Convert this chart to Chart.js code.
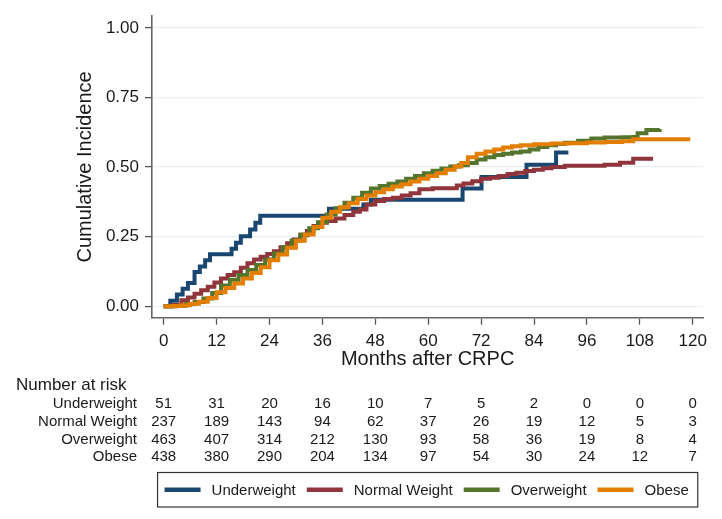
<!DOCTYPE html>
<html>
<head>
<meta charset="utf-8">
<script src="https://cdn.jsdelivr.net/npm/chart.js@4.4.1/dist/chart.umd.min.js"></script>
<style>
  html, body { margin: 0; padding: 0; background: #fff; }
  #wrap { position: relative; width: 722px; height: 519px; }
</style>
</head>
<body>
<div id="wrap"><canvas id="cifChart"></canvas></div>
<script>
// axis ticks
const xTicks = [0, 12, 24, 36, 48, 60, 72, 84, 96, 108, 120];
const yTicks = [0, 0.25, 0.5, 0.75, 1];

const groups = ['Underweight', 'Normal Weight', 'Overweight', 'Obese'];
const groupColors = ['#1a476f', '#90353b', '#55752f', '#e37e00'];

// cumulative incidence (month, value)
const underMonths = [0, 1.5, 3.0, 4.3, 5.5, 7.0, 8.2, 9.4, 10.5, 15.4, 16.4, 17.5, 19.6, 20.8, 21.9, 37.5, 45.3, 47.0, 67.8, 72.1, 82.3, 89.0, 91.8];
const underCI = [0, 0.02, 0.042, 0.063, 0.084, 0.123, 0.143, 0.165, 0.187, 0.207, 0.228, 0.252, 0.276, 0.300, 0.325, 0.35, 0.366, 0.383, 0.423, 0.464, 0.508, 0.552, 0.552];

const normalMonths = [0, 2, 4, 5.5, 7, 8.5, 10, 11.5, 13, 14.5, 16, 17.5, 19, 20.5, 22, 23.5, 25, 26.5, 28, 29.5, 31, 32.5, 34, 35.5, 37, 39, 41, 43, 44.5, 46, 48, 50, 52, 54, 56, 58, 61, 64, 66.5, 68, 70, 72, 74, 76, 78, 80, 82, 84, 86, 88, 91, 95, 100, 103.5, 106.5, 111];
const normalCI = [0, 0.005, 0.022, 0.032, 0.045, 0.058, 0.07, 0.085, 0.1, 0.112, 0.122, 0.138, 0.155, 0.168, 0.178, 0.188, 0.198, 0.212, 0.226, 0.24, 0.255, 0.27, 0.288, 0.3, 0.306, 0.315, 0.328, 0.34, 0.348, 0.366, 0.378, 0.385, 0.39, 0.398, 0.406, 0.42, 0.424, 0.424, 0.434, 0.441, 0.449, 0.458, 0.462, 0.468, 0.475, 0.48, 0.486, 0.49, 0.496, 0.5, 0.505, 0.505, 0.508, 0.516, 0.53, 0.53];

const overMonths = [0, 3, 5, 7, 9, 11, 13, 15, 17, 19, 21, 23, 25, 27, 29, 31, 33, 35, 37, 39, 41, 43, 45, 47, 49, 51, 53, 55, 57, 59, 61, 63, 65, 67, 69, 71, 73, 75, 77, 79, 81, 83, 85, 87, 89, 91, 94, 97, 100, 104, 106.5, 107.5, 109.5, 112.5];
const overCI = [0, 0.002, 0.008, 0.015, 0.028, 0.048, 0.075, 0.095, 0.112, 0.13, 0.148, 0.168, 0.19, 0.212, 0.236, 0.258, 0.28, 0.302, 0.33, 0.352, 0.372, 0.39, 0.408, 0.423, 0.432, 0.44, 0.448, 0.458, 0.468, 0.478, 0.487, 0.495, 0.502, 0.507, 0.515, 0.527, 0.535, 0.543, 0.548, 0.552, 0.556, 0.563, 0.572, 0.578, 0.583, 0.587, 0.595, 0.603, 0.606, 0.607, 0.608, 0.622, 0.633, 0.637];

const obeseMonths = [0, 2, 4, 6, 8, 10, 12, 14, 16, 18, 20, 22, 24, 26, 28, 30, 32, 34, 36, 38, 40, 42, 44, 46, 48, 50, 52, 54, 56, 58, 60, 62, 64, 66, 67.5, 69, 71, 73, 75, 77, 79, 81, 84, 88, 92, 96, 100, 104, 106.5, 110, 114, 118.5, 119];
const obeseCI = [0, 0.001, 0.004, 0.009, 0.016, 0.03, 0.05, 0.066, 0.082, 0.1, 0.12, 0.14, 0.165, 0.186, 0.21, 0.235, 0.258, 0.285, 0.318, 0.34, 0.356, 0.37, 0.385, 0.398, 0.41, 0.42, 0.43, 0.438, 0.448, 0.458, 0.468, 0.478, 0.49, 0.502, 0.515, 0.535, 0.548, 0.556, 0.563, 0.57, 0.575, 0.578, 0.582, 0.585, 0.586, 0.588, 0.59, 0.593, 0.6, 0.6, 0.6, 0.6, 0.607];

// number at risk table
const riskUnder = [51, 31, 20, 16, 10, 7, 5, 2, 0, 0, 0];
const riskNormal = [237, 189, 143, 94, 62, 37, 26, 19, 12, 5, 3];
const riskOver = [463, 407, 314, 212, 130, 93, 58, 36, 19, 8, 4];
const riskObese = [438, 380, 290, 204, 134, 97, 54, 30, 24, 12, 7];

const FONT = '"Liberation Sans", Arial, sans-serif';
Chart.defaults.font.family = FONT;
Chart.defaults.color = '#1a1a1a';

function pairs(months, vals) {
    return months.map((m, i) => ({ x: m, y: vals[i] }));
}

// risk table under the x axis
const riskTablePlugin = {
    id: 'riskTable',
    afterDraw(chart) {
        const ctx = chart.ctx;
        const xs = chart.scales.x;
        const rows = [riskUnder, riskNormal, riskOver, riskObese];
        const rowY = [404, 421.7, 439.5, 457];
        ctx.save();
        ctx.fillStyle = '#1a1a1a';
        ctx.textBaseline = 'middle';
        ctx.font = '17px ' + FONT;
        ctx.textAlign = 'left';
        ctx.fillText('Number at risk', 16, 385);
        ctx.font = '15px ' + FONT;
        rows.forEach((row, r) => {
            ctx.textAlign = 'right';
            ctx.fillText(groups[r], 137, rowY[r]);
            ctx.textAlign = 'center';
            row.forEach((n, i) => {
                ctx.fillText(String(n), xs.getPixelForValue(xTicks[i]), rowY[r]);
            });
        });
        ctx.restore();
    }
};

// boxed legend at the bottom
const boxLegendPlugin = {
    id: 'boxLegend',
    afterDraw(chart) {
        const ctx = chart.ctx;
        const area = chart.chartArea;
        const lineLen = 36, gapText = 11, gapItem = 11;
        const top = 472.5, h = 34.5;
        ctx.save();
        ctx.font = '15px ' + FONT;
        const widths = groups.map(g => ctx.measureText(g).width);
        let total = 0;
        widths.forEach((w, i) => { total += lineLen + gapText + w + (i < widths.length - 1 ? gapItem : 0); });
        const boxW = total + 16;
        const boxX = (area.left + area.right) / 2 - boxW / 2;
        ctx.strokeStyle = '#333';
        ctx.lineWidth = 1.2;
        ctx.strokeRect(boxX, top, boxW, h);
        let x = boxX + 7;
        const cy = top + h / 2;
        ctx.textBaseline = 'middle';
        ctx.textAlign = 'left';
        groups.forEach((g, i) => {
            ctx.strokeStyle = groupColors[i];
            ctx.lineWidth = 4.5;
            ctx.beginPath();
            ctx.moveTo(x, cy);
            ctx.lineTo(x + lineLen, cy);
            ctx.stroke();
            ctx.fillStyle = '#1a1a1a';
            ctx.fillText(g, x + lineLen + gapText, cy + 1);
            x += lineLen + gapText + widths[i] + gapItem;
        });
        ctx.restore();
    }
};

const series = [
    [underMonths, underCI],
    [normalMonths, normalCI],
    [overMonths, overCI],
    [obeseMonths, obeseCI]
];

new Chart(document.getElementById('cifChart'), {
    type: 'scatter',
    data: {
        datasets: series.map((s, i) => ({
            label: groups[i],
            data: pairs(s[0], s[1]),
            showLine: true,
            stepped: true,
            borderColor: groupColors[i],
            backgroundColor: groupColors[i],
            borderWidth: 4,
            pointRadius: 0,
            order: 3 - i // obese drawn on top
        }))
    },
    options: {
        responsive: true,
        maintainAspectRatio: false,
        animation: false,
        layout: { padding: { top: 10, right: 18.7, bottom: 146.3, left: 0 } },
        plugins: {
            legend: { display: false },
            tooltip: { enabled: false }
        },
        scales: {
            x: {
                type: 'linear',
                min: -2.65,
                max: 122.4,
                afterBuildTicks: (scale) => { scale.ticks = xTicks.map(v => ({ value: v })); },
                afterFit: (scale) => { scale.height = 55; },
                ticks: { font: { size: 17 }, color: '#1a1a1a', padding: 6, maxRotation: 0 },
                grid: { drawOnChartArea: false, tickLength: 7, tickColor: '#555', tickWidth: 1.3 },
                border: { display: true, color: '#666', width: 1.6 },
                title: {
                    display: true,
                    text: 'Months after CRPC',
                    font: { size: 20 },
                    color: '#1a1a1a',
                    padding: { top: 0, bottom: 1.3 }
                }
            },
            y: {
                min: -0.041,
                max: 1.042,
                afterBuildTicks: (scale) => { scale.ticks = yTicks.map(v => ({ value: v })); },
                afterFit: (scale) => { scale.width = 152; },
                ticks: {
                    font: { size: 17 },
                    color: '#1a1a1a',
                    padding: 6,
                    callback: (v) => Number(v).toFixed(2)
                },
                grid: { color: '#e9eff1', lineWidth: 1.2, tickLength: 7, tickColor: '#555', tickWidth: 1.3 },
                border: { display: true, color: '#666', width: 1.6 },
                title: {
                    display: true,
                    text: 'Cumulative Incidence',
                    font: { size: 20 },
                    color: '#1a1a1a',
                    padding: { top: 73, bottom: 0 }
                }
            }
        }
    },
    plugins: [riskTablePlugin, boxLegendPlugin]
});
</script>
</body>
</html>
